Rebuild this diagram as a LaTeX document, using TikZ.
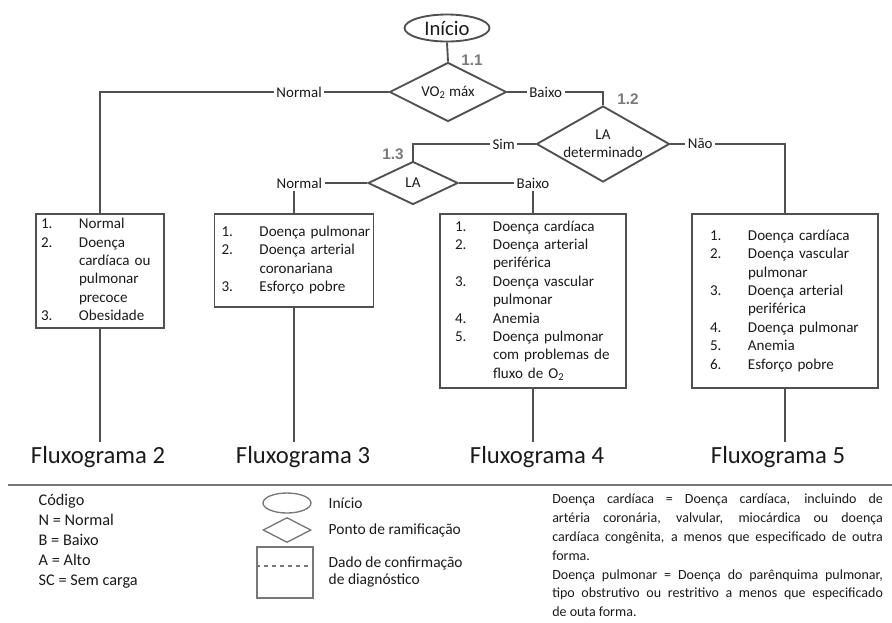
\documentclass[tikz,border=0pt]{standalone}
\usepackage{fontspec}
\setmainfont{Carlito}
\newfontfamily\numfont{Liberation Sans}
\usepackage{xcolor}
\usepackage{tikz}
\usetikzlibrary{positioning,calc,shapes.geometric}
\definecolor{cLine}{HTML}{505050}
\definecolor{cInk}{HTML}{1A1A1A}
\definecolor{cNum}{HTML}{7A7A7A}
\definecolor{cRule}{HTML}{777777}
\tikzset{
  flow/.style={draw=cLine,line width=1.4pt},
  dbox/.style={draw=cLine,line width=1.3pt,rectangle,align=left,inner ysep=1pt,text=cInk,font=\fontsize{11.3}{13.8}\selectfont},
  dec/.style={diamond,draw=cLine,line width=1.4pt,inner sep=0pt,align=center,text=cInk,font=\fontsize{11.3}{13.5}\selectfont},
  lbl/.style={fill=white,inner sep=2pt,text=cInk,font=\fontsize{11.2}{13}\selectfont},
  stepno/.style={text=cNum,font=\numfont\bfseries\fontsize{11.5}{12}\selectfont},
  fluxo/.style={text=cInk,font=\fontsize{18.5}{21}\selectfont},
  legtxt/.style={text=cInk,align=left,font=\fontsize{11.6}{13}\selectfont},
  legshape/.style={draw=cRule,line width=1pt,inner sep=0pt},
}
\newcommand{\itemtab}[1]{\begin{tabular}{@{}p{28.5pt}@{}l@{}}#1\end{tabular}}

\begin{document}
\begin{tikzpicture}[x=0.75pt,y=-0.75pt]
  \useasboundingbox (0,0) rectangle (892,622);
  % top of the chart
  \node[ellipse,draw=cLine,line width=1.4pt,inner sep=0pt,minimum width=63.75pt,minimum height=20.25pt,text=cInk,font=\fontsize{15.5}{17}\selectfont] (start) at (447,28) {Início};
  \node[dec,minimum width=87.75pt,minimum height=44.25pt,aspect=2] (d11) at (448,92) {VO\textsubscript{2} máx};
  \node[dec,minimum width=99.75pt,minimum height=57pt,aspect=1.75] (d12) at (603,144) {LA\\determinado};
  \node[dec,minimum width=67.5pt,minimum height=32.25pt,aspect=2.1] (d13) at (413,183) {LA};
  \node[stepno] (n11) at (472,60) {1.1};
  \node[stepno] (n12) at (628,99) {1.2};
  \node[stepno] (n13) at (393,154) {1.3};

  % diagnosis boxes
  \node[dbox,minimum width=96pt,minimum height=85.5pt,text width=88.5pt,inner xsep=3.75pt] (b1) at (100,271)
    {\itemtab{1. & Normal\\ 2. & Doença\\ & cardíaca ou\\ & pulmonar\\ & precoce\\ 3. & Obesidade}};
  \node[dbox,minimum width=119.25pt,minimum height=69.75pt,text width=108.75pt,inner xsep=5.25pt] (b2) at (294,260.5)
    {\itemtab{1. & Doença pulmonar\\ 2. & Doença arterial\\ & coronariana\\ 3. & Esforço pobre}};
  \node[dbox,minimum width=139.5pt,minimum height=130.5pt,text width=117pt,inner xsep=11.25pt] (b3) at (533,301)
    {\itemtab{1. & Doença cardíaca\\ 2. & Doença arterial\\ & periférica\\ 3. & Doença vascular\\ & pulmonar\\ 4. & Anemia\\ 5. & Doença pulmonar\\ & com problemas de\\ & fluxo de O\textsubscript{2}}};
  \node[dbox,minimum width=139.5pt,minimum height=130.5pt,text width=112.5pt,inner xsep=13.5pt] (b4) at (785,301)
    {\itemtab{1. & Doença cardíaca\\ 2. & Doença vascular\\ & pulmonar\\ 3. & Doença arterial\\ & periférica\\ 4. & Doença pulmonar\\ 5. & Anemia\\ 6. & Esforço pobre}};

  \node[fluxo] (f2) at (98,457) {Fluxograma 2};
  \node[fluxo] (f3) at (303,457) {Fluxograma 3};
  \node[fluxo] (f4) at (537,457) {Fluxograma 4};
  \node[fluxo] (f5) at (778,457) {Fluxograma 5};

  % connectors
  \draw[flow] (start.south) -- (d11.north);
  \draw[flow] (d11.west) -- node[lbl,pos=0.31] (lnor1) {Normal} (b1.north |- d11.west) -- (b1.north);
  \draw[flow] (d11.east) -- node[lbl,pos=0.4] (lbai1) {Baixo} (d12.north |- d11.east) -- (d12.north);
  \draw[flow] (d12.west) -- node[lbl,pos=0.26] (lsim) {Sim} (d13.north |- d12.west) -- (d13.north);
  \draw[flow] (d12.east) -- node[lbl,pos=0.26] (lnao) {Não} (b4.north |- d12.east) -- (b4.north);
  \draw[flow] (d13.west) -- (b2.north |- d13.west) -- (b2.north);
  \node[lbl,xshift=4pt] (lnor2) at (b2.north |- d13.west) {Normal};
  \draw[flow] (d13.east) -- (b3.north |- d13.east) -- (b3.north);
  \node[lbl] (lbai2) at (b3.north |- d13.east) {Baixo};
  \foreach \b/\f in {b1/f2,b2/f3,b3/f4,b4/f5}{
    \draw[flow] (\b.south) -- (\b.south |- \f.north);
  }

  % legend
  \draw[draw=cRule,line width=1.6pt] (8,485) -- (892,485);
  \node[legtxt,anchor=north west,font=\fontsize{12.2}{15}\selectfont] (code) at (34,489) {Código\\N = Normal\\B = Baixo\\A = Alto\\SC = Sem carga};
  \node[legshape,ellipse,minimum width=36pt,minimum height=15pt] (lgStart) at (287,503) {};
  \node[legshape,diamond,minimum width=36pt,minimum height=18.75pt] (lgDec) at (287,530) {};
  \node[legshape,rectangle,minimum width=42pt,minimum height=38.25pt] (lgBox) at (285,572.5) {};
  \draw[draw=cRule,line width=1pt,dashed] ([yshift=4.9pt]lgBox.west) -- ([yshift=4.9pt]lgBox.east);
  \node[legtxt,anchor=west] (lgStartT) at (324,503) {Início};
  \node[legtxt,anchor=west] (lgDecT) at (324,530) {Ponto de ramificação};
  \node[legtxt,anchor=west] (lgBoxT) at (324,572) {Dado de confirmação\\de diagnóstico};
  \node[anchor=north west,text width=248pt,align=justify,inner sep=0pt,text=cInk,font=\fontsize{10.5}{14.1}\selectfont] (notes) at (552,494)
    {Doença cardíaca = Doença cardíaca, incluindo de\linebreak artéria coronária, valvular, miocárdica ou doença\linebreak cardíaca congênita, a menos que especificado de outra\linebreak forma.\par
     Doença pulmonar = Doença do parênquima pulmonar,\linebreak tipo obstrutivo ou restritivo a menos que especificado\linebreak de outa forma.};
\end{tikzpicture}
\end{document}
